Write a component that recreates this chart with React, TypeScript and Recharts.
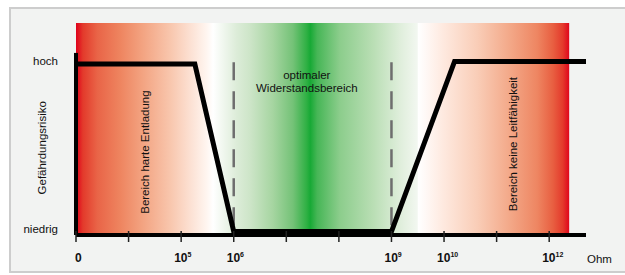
import React from 'react';
import {
  ComposedChart, Line, XAxis, YAxis, ReferenceArea, ReferenceLine, ReferenceDot, Label,
} from 'recharts';

// Widerstand (Index auf der log. Achse) und Risiko
const ohmIndex = [0, 2.26, 3, 6, 7.2, 9.7];
const risk = [1, 1, 0.02, 0.02, 1.015, 1.015];

const xTicks = [0, 1, 2, 3, 4, 5, 6, 7, 8, 9];
const xTickLabels = ['0', '', '10^5', '10^6', '', '', '10^9', '10^10', '', '10^12'];
const yTicks = [0, 1];
const yTickLabels = ['niedrig', 'hoch'];

const X_MAX = 9.7;
const Y_MAX = 1.24;
const BAND_END = 9.38;

const data = ohmIndex.map((x, i) => ({ x, risk: risk[i] }));

const FONT = '"Liberation Sans", Arial, sans-serif';

// Farbverlauf rot -> weiss -> gruen -> weiss -> rot
const bandStops: [number, string][] = [
  [0, '#e0001b'],
  [0.014, '#e33a2b'],
  [0.043, '#e96447'],
  [0.089, '#ee845f'],
  [0.136, '#f3a482'],
  [0.191, '#f8c6ad'],
  [0.231, '#fce0d2'],
  [0.266, '#fff6f1'],
  [0.278, '#ffffff'],
  [0.326, '#dcecd8'],
  [0.353, '#cde5c8'],
  [0.399, '#a6d5a1'],
  [0.44, '#74c277'],
  [0.468, '#2eb043'],
  [0.475, '#17a935'],
  [0.489, '#46b656'],
  [0.535, '#8ccd8c'],
  [0.602, '#b9deb4'],
  [0.657, '#dfeedb'],
  [0.692, '#f2f7f0'],
  [0.694, '#ffffff'],
  [0.745, '#fee9df'],
  [0.814, '#f9cdb7'],
  [0.88, '#f3a888'],
  [0.935, '#ee8662'],
  [0.967, '#e85f41'],
  [0.987, '#e43a2c'],
  [1, '#e0061c'],
];

const XTick = ({ x, y, payload }: any) => {
  const label = xTickLabels[payload.index] ?? '';
  const [base, exp] = label.split('^');
  return (
    <g>
      <line x1={x} x2={x} y1={y - 4} y2={y + 7} stroke="#222" strokeWidth={1.5} />
      {base === '0' && (
        <text x={x - 1} y={y + 27} fontFamily={FONT} fontSize={12} fontWeight="bold" fill="#111">0</text>
      )}
      {base === '10' && (
        <text x={x - 7} y={y + 27} fontFamily={FONT} fontSize={12} fontWeight="bold" fill="#111">
          10<tspan dy={-5} fontSize={7}>{exp}</tspan>
        </text>
      )}
    </g>
  );
};

const YTick = ({ x, y, payload }: any) => {
  const i = yTicks.indexOf(Number(payload.value));
  return (
    <text x={x - 18} y={y + (i === 0 ? -2 : 1)} textAnchor="end" fontFamily={FONT} fontSize={11.5} fill="#111">
      {yTickLabels[i]}
    </text>
  );
};

const vertText = (text: string) => ({ cx, cy }: any) => (
  <text
    x={cx}
    y={cy}
    dy="0.35em"
    textAnchor="middle"
    transform={`rotate(-90 ${cx} ${cy})`}
    fontFamily={FONT}
    fontSize={11.5}
    fill="#111"
  >
    {text}
  </text>
);

const optimalText = ({ cx, cy }: any) => (
  <text x={cx} y={cy} textAnchor="middle" fontFamily={FONT} fontSize={11.5} fill="#111">
    <tspan x={cx} dy="0.35em">optimaler</tspan>
    <tspan x={cx} dy={13.5}>Widerstandsbereich</tspan>
  </text>
);

const App = () => {
  return (
    <div style={{ position: 'absolute', left: 0, top: 0, width: 625, height: 275, background: '#fff', overflow: 'hidden' }}>
      <div
        style={{
          position: 'absolute', left: 9, top: 7, width: 640, height: 266,
          boxSizing: 'border-box', border: '2.5px solid #cdcdcd', background: '#f2f3f2',
        }}
      />
      <div style={{ position: 'absolute', left: 0, top: 0 }}>
        <ComposedChart width={625} height={275} data={data} margin={{ top: 23, right: 39, bottom: 10, left: 0 }}>
          <defs>
            <linearGradient id="band" x1="0" y1="0" x2="1" y2="0">
              {bandStops.map(([o, c], i) => (
                <stop key={i} offset={o} stopColor={c} />
              ))}
            </linearGradient>
          </defs>
          <XAxis
            dataKey="x"
            type="number"
            domain={[0, X_MAX]}
            ticks={xTicks}
            interval={0}
            height={30}
            tickSize={0}
            tickMargin={0}
            tickLine={false}
            tick={<XTick />}
            axisLine={{ stroke: '#000', strokeWidth: 4 }}
            allowDataOverflow
          >
            <Label
              content={({ viewBox }: any) => (
                <text x={viewBox.x + viewBox.width + 1} y={viewBox.y + 28} fontFamily={FONT} fontSize={11.5} fill="#111">
                  Ohm
                </text>
              )}
            />
          </XAxis>
          <YAxis
            type="number"
            domain={[0, Y_MAX]}
            ticks={yTicks}
            interval={0}
            width={76}
            tickSize={0}
            tickMargin={0}
            tickLine={false}
            axisLine={false}
            tick={<YTick />}
            allowDataOverflow
          />
          <ReferenceArea x1={0} x2={BAND_END} y1={0} y2={Y_MAX} fill="url(#band)" fillOpacity={1} stroke="none" />
          <ReferenceLine
            segment={[{ x: 3, y: 1.01 }, { x: 3, y: 0 }]}
            stroke="#6e6e6e"
            strokeWidth={2.5}
            strokeDasharray="18 11"
          />
          <ReferenceLine
            segment={[{ x: 6, y: 1.01 }, { x: 6, y: 0 }]}
            stroke="#6e6e6e"
            strokeWidth={2.5}
            strokeDasharray="18 11"
          />
          <ReferenceLine segment={[{ x: 0, y: 0 }, { x: 0, y: 1.065 }]} stroke="#000" strokeWidth={4} />
          <ReferenceDot x={-0.65} y={0.51} r={0} ifOverflow="visible" shape={vertText('Gefährdungsrisiko')} />
          <ReferenceDot x={1.31} y={0.485} r={0} ifOverflow="visible" shape={vertText('Bereich harte Entladung')} />
          <ReferenceDot x={8.31} y={0.532} r={0} ifOverflow="visible" shape={vertText('Bereich keine Leitfähigkeit')} />
          <ReferenceDot x={4.39} y={0.936} r={0} ifOverflow="visible" shape={optimalText} />
          <Line
            type="linear"
            dataKey="risk"
            stroke="#000"
            strokeWidth={5}
            strokeLinejoin="miter"
            dot={false}
            activeDot={false}
            isAnimationActive={false}
          />
        </ComposedChart>
      </div>
    </div>
  );
};

export default App;
